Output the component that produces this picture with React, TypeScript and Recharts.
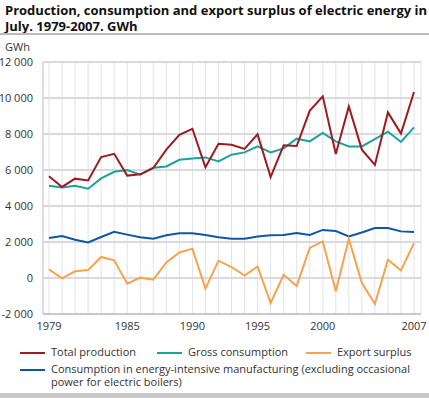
import React from 'react';
import { LineChart, Line, XAxis, YAxis, CartesianGrid } from 'recharts';

// July values, GWh, 1979-2007
const years = [
  1979, 1980, 1981, 1982, 1983, 1984, 1985, 1986, 1987, 1988, 1989, 1990, 1991, 1992, 1993,
  1994, 1995, 1996, 1997, 1998, 1999, 2000, 2001, 2002, 2003, 2004, 2005, 2006, 2007,
];
const totalProduction = [
  5650, 5060, 5520, 5420, 6720, 6900, 5690, 5760, 6110, 7130, 7960, 8290, 6150, 7460, 7400,
  7170, 7980, 5610, 7370, 7330, 9290, 10090, 6890, 9530, 7130, 6280, 9200, 8020, 10330,
];
const grossConsumption = [
  5130, 5030, 5130, 4960, 5530, 5900, 6000, 5740, 6130, 6200, 6570, 6640, 6700, 6480, 6850,
  6980, 7310, 6980, 7200, 7740, 7590, 8060, 7590, 7310, 7310, 7720, 8130, 7560, 8370,
];
const exportSurplus = [
  480, -20, 370, 440, 1170, 980, -320, 20, -90, 870, 1420, 1630, -590, 960, 610,
  130, 640, -1390, 180, -440, 1670, 2030, -740, 2180, -280, -1440, 1020, 420, 1940,
];
const energyIntensive = [
  2220, 2330, 2130, 1980, 2280, 2570, 2410, 2260, 2180, 2370, 2480, 2480, 2390, 2260, 2180,
  2180, 2310, 2370, 2390, 2500, 2390, 2670, 2610, 2310, 2530, 2780, 2780, 2590, 2560,
];
const yTicks = [-2000, 0, 2000, 4000, 6000, 8000, 10000, 12000];
const xLabels = [1979, 1985, 1990, 1995, 2000, 2007];

const C_PROD = '#9e1b22';
const C_GROSS = '#1ba39e';
const C_EXPORT = '#f7a24c';
const C_ENERGY = '#0f57a6';

const data = years.map((y, i) => ({
  year: y,
  prod: totalProduction[i],
  gross: grossConsumption[i],
  exp: exportSurplus[i],
  energy: energyIntensive[i],
}));

// thousands with a non-breaking space so recharts doesn't wrap the label
const fmt = (v: number) => {
  const s = Math.abs(v).toString().replace(/\B(?=(\d{3})+(?!\d))/g, '\u00A0');
  return (v < 0 ? '-' : '') + s;
};

const font = '"Open Sans", sans-serif';

const Swatch = ({ color }: { color: string }) => (
  <span style={{ display: 'inline-block', width: 25, height: 2, background: color, marginRight: 6, verticalAlign: 'middle' }} />
);

export default function App() {
  return (
    <div style={{ position: 'absolute', left: 0, top: 0, width: 429, height: 398, background: '#fff', fontFamily: font, color: '#222' }}>
      <div style={{ position: 'absolute', left: 5, top: 2, width: 424, fontSize: 13, fontWeight: 700, lineHeight: '16px', color: '#111' }}>
        Production, consumption and export surplus of electric energy in July. 1979-2007. GWh
      </div>
      <div style={{ position: 'absolute', left: 0, top: 33, width: 429, height: 1.5, background: '#bbb' }} />
      <div style={{ position: 'absolute', left: 5, top: 41, fontSize: 11, lineHeight: '12px', color: '#333' }}>GWh</div>

      <div style={{ position: 'absolute', left: 0, top: 0 }}>
        <LineChart width={429} height={340} data={data} margin={{ top: 62, right: 8, bottom: 6, left: 0 }}>
          <CartesianGrid horizontal={false} stroke="#e2e2ea" strokeWidth={1} />
          <CartesianGrid vertical={false} stroke="#d9d9e0" strokeWidth={2} />
          <XAxis
            dataKey="year"
            type="number"
            domain={[1979, 2007]}
            ticks={years}
            interval={0}
            padding={{ left: 6, right: 7 }}
            tickFormatter={(v: number) => (xLabels.includes(v) ? String(v) : '')}
            tickLine={false}
            axisLine={{ stroke: '#c8c8d0', strokeWidth: 2 }}
            tick={{ fontSize: 11, fill: '#333', fontFamily: font }}
            height={20}
            tickMargin={2}
          />
          <YAxis
            domain={[-2000, 12000]}
            ticks={yTicks}
            tickFormatter={fmt}
            width={43}
            tickLine={false}
            axisLine={{ stroke: '#c8c8d0', strokeWidth: 1 }}
            tick={{ fontSize: 11, fill: '#333', fontFamily: font }}
            tickMargin={4}
          />
          <Line dataKey="energy" stroke={C_ENERGY} strokeWidth={2} dot={false} isAnimationActive={false} />
          <Line dataKey="exp" stroke={C_EXPORT} strokeWidth={2} dot={false} isAnimationActive={false} />
          <Line dataKey="gross" stroke={C_GROSS} strokeWidth={2} dot={false} isAnimationActive={false} />
          <Line dataKey="prod" stroke={C_PROD} strokeWidth={2} dot={false} isAnimationActive={false} />
        </LineChart>
      </div>

      <div style={{ position: 'absolute', left: 20, top: 345, width: 405, fontSize: 11, lineHeight: '13px', color: '#333' }}>
        <div style={{ display: 'flex', height: 17 }}>
          <span style={{ width: 137 }}><Swatch color={C_PROD} />Total production</span>
          <span style={{ width: 149 }}><Swatch color={C_GROSS} />Gross consumption</span>
          <span><Swatch color={C_EXPORT} />Export surplus</span>
        </div>
        <div style={{ display: 'flex' }}>
          <span style={{ width: 31, flex: 'none' }}><Swatch color={C_ENERGY} /></span>
          <span>Consumption in energy-intensive manufacturing (excluding occasional power for electric boilers)</span>
        </div>
      </div>
      <div style={{ position: 'absolute', left: 0, top: 393, width: 429, height: 5, background: '#c8c8c8' }} />
    </div>
  );
}
